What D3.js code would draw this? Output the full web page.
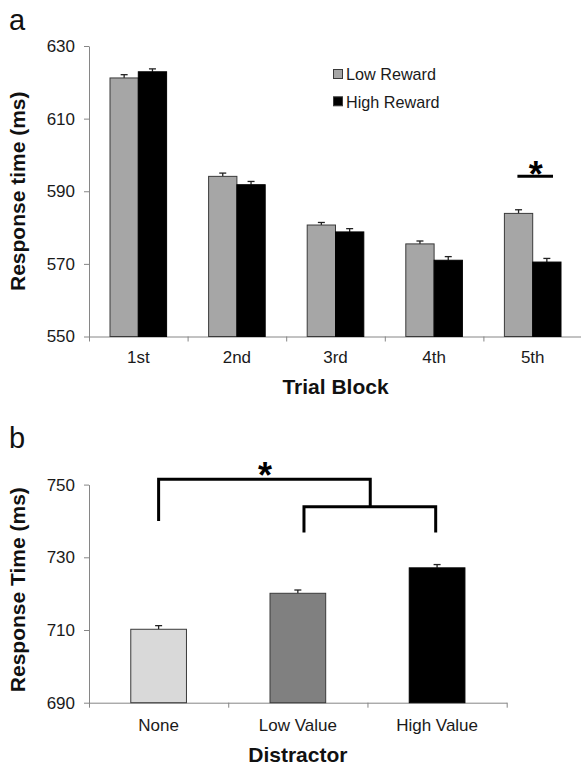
<!DOCTYPE html>
<html>
<head>
<meta charset="utf-8">
<script src="https://cdn.jsdelivr.net/npm/d3@7"></script>
<style>
  html, body { margin: 0; padding: 0; background: #fff; }
  svg, svg text { font-family: "Liberation Sans", Arial, sans-serif; }
  svg { display: block; }
  .axis path, .axis line { stroke: #868686; stroke-width: 1; }
  .axis text { font-size: 17px; fill: #1a1a1a; font-family: "Liberation Sans", Arial, sans-serif; }
</style>
</head>
<body>
<svg id="chart" width="581" height="765"></svg>
<script>
// ---------- Panel a data ----------
const blocks = ["1st", "2nd", "3rd", "4th", "5th"];
const seriesNames = ["Low Reward", "High Reward"];
const lowReward = [621.2, 594.1, 580.7, 575.5, 583.9];
const highReward = [622.9, 591.8, 578.8, 571.0, 570.5];
const lowRewardErr = [0.9, 0.9, 0.7, 0.8, 1.0];
const highRewardErr = [0.8, 0.9, 0.9, 1.0, 1.0];
const ticksA = [550, 570, 590, 610, 630];

// ---------- Panel b data ----------
const distractors = ["None", "Low Value", "High Value"];
const distractorRT = [710.2, 720.1, 727.1];
const distractorErr = [1.0, 0.9, 0.9];
const ticksB = [690, 710, 730, 750];

const svg = d3.select("#chart");
const outline = "#3a3a3a";
const FONT = "Liberation Sans, Arial, sans-serif";

// =============== PANEL A =================
const xa = d3.scaleBand().domain(blocks).range([89, 582]).padding(0);
const xaIdx = d3.scaleLinear().domain([0, blocks.length]).range([89, 582]);
const ya = d3.scaleLinear().domain([550, 630]).range([336.5, 46]);

svg.append("text").attr("x", 9).attr("y", 30)
  .attr("font-size", 29).attr("fill", "#111").text("a");

svg.append("g").attr("class", "axis").attr("transform", "translate(89,0)")
  .call(d3.axisLeft(ya).tickValues(ticksA).tickSize(5).tickSizeOuter(0).tickPadding(9))
  .attr("font-family", FONT);
svg.append("g").attr("class", "axis").attr("transform", `translate(0,${ya(550)})`)
  .call(d3.axisBottom(xaIdx).tickValues(d3.range(0, blocks.length + 1)).tickSize(5).tickSizeOuter(0).tickFormat(""));
svg.append("g").attr("class", "axis").attr("transform", `translate(0,${ya(550)})`)
  .call(d3.axisBottom(xa).tickSize(0).tickPadding(14))
  .attr("font-family", FONT)
  .call(g => g.select(".domain").remove());

const barWA = xa.bandwidth() * 0.287;
const groupA = blocks.map((b, i) => ({ b, i, lo: lowReward[i], hi: highReward[i], le: lowRewardErr[i], he: highRewardErr[i] }));

function errBar(g, cx, yv, e, yScale) {
  g.append("line").attr("x1", cx).attr("x2", cx)
    .attr("y1", yScale(yv)).attr("y2", yScale(yv + e))
    .attr("stroke", "#222").attr("stroke-width", 1.3);
  g.append("line").attr("x1", cx - 3.5).attr("x2", cx + 3.5)
    .attr("y1", yScale(yv + e)).attr("y2", yScale(yv + e))
    .attr("stroke", "#222").attr("stroke-width", 1.3);
}

const barsA = svg.append("g");
groupA.forEach(d => {
  const c = xa(d.b) + xa.bandwidth() / 2;
  errBar(barsA, c - barWA / 2, d.lo, d.le, ya);
  errBar(barsA, c + barWA / 2, d.hi, d.he, ya);
  barsA.append("rect").attr("x", c - barWA).attr("width", barWA)
    .attr("y", ya(d.lo)).attr("height", ya(550) - ya(d.lo))
    .attr("fill", "#a6a6a6").attr("stroke", outline).attr("stroke-width", 1);
  barsA.append("rect").attr("x", c).attr("width", barWA)
    .attr("y", ya(d.hi)).attr("height", ya(550) - ya(d.hi))
    .attr("fill", "#000").attr("stroke", "#000").attr("stroke-width", 1);
});

// legend
const legColors = ["#a6a6a6", "#000"];
seriesNames.forEach((n, i) => {
  const y0 = 69.5 + i * 27.3;
  svg.append("rect").attr("x", 333.5).attr("y", y0).attr("width", 9).attr("height", 9)
    .attr("fill", legColors[i]).attr("stroke", outline).attr("stroke-width", 1);
  svg.append("text").attr("x", 346).attr("y", y0 + 10.8).attr("font-size", 16.2)
    .attr("fill", "#1a1a1a").text(n);
});

// significance (5th block)
svg.append("line").attr("x1", xaIdx(4.345)).attr("x2", xaIdx(4.706))
  .attr("y1", ya(594.1)).attr("y2", ya(594.1)).attr("stroke", "#000").attr("stroke-width", 3);
svg.append("text").attr("x", xaIdx(4.53)).attr("y", 187).attr("text-anchor", "middle")
  .attr("font-size", 36).attr("font-weight", "bold").text("*");

// titles
svg.append("text").attr("transform", `translate(25,${(ya(550) + ya(630)) / 2}) rotate(-90)`)
  .attr("text-anchor", "middle").attr("font-size", 21).attr("font-weight", "bold").attr("fill", "#111")
  .text("Response time (ms)");
svg.append("text").attr("x", (89 + 582) / 2).attr("y", 394).attr("text-anchor", "middle")
  .attr("font-size", 21).attr("font-weight", "bold").attr("fill", "#111").text("Trial Block");

// =============== PANEL B =================
const xb = d3.scaleBand().domain(distractors).range([89, 506.7]).padding(0);
const xbIdx = d3.scaleLinear().domain([0, distractors.length]).range([89, 506.7]);
const yb = d3.scaleLinear().domain([690, 750]).range([702.7, 484.6]);

svg.append("text").attr("x", 9).attr("y", 448)
  .attr("font-size", 29).attr("fill", "#111").text("b");

svg.append("g").attr("class", "axis").attr("transform", "translate(89,0)")
  .call(d3.axisLeft(yb).tickValues(ticksB).tickSize(5).tickSizeOuter(0).tickPadding(9))
  .attr("font-family", FONT);
svg.append("g").attr("class", "axis").attr("transform", `translate(0,${yb(690)})`)
  .call(d3.axisBottom(xbIdx).tickValues(d3.range(0, distractors.length + 1)).tickSize(5).tickSizeOuter(0).tickFormat(""));
svg.append("g").attr("class", "axis").attr("transform", `translate(0,${yb(690)})`)
  .call(d3.axisBottom(xb).tickSize(0).tickPadding(16))
  .attr("font-family", FONT)
  .call(g => g.select(".domain").remove());

const barColorsB = ["#d9d9d9", "#808080", "#000"];
const barWB = xb.bandwidth() * 0.4;
const barsB = svg.append("g");
distractors.forEach((d, i) => {
  const c = xb(d) + xb.bandwidth() / 2;
  errBar(barsB, c, distractorRT[i], distractorErr[i], yb);
  barsB.append("rect").attr("x", c - barWB / 2).attr("width", barWB)
    .attr("y", yb(distractorRT[i])).attr("height", yb(690) - yb(distractorRT[i]))
    .attr("fill", barColorsB[i]).attr("stroke", i === 2 ? "#000" : outline).attr("stroke-width", 1);
});

// brackets
const bracket = svg.append("g").attr("fill", "none").attr("stroke", "#000").attr("stroke-width", 3);
const big = d3.path();
big.moveTo(xbIdx(0.5), yb(740)); big.lineTo(xbIdx(0.5), yb(751.5));
big.lineTo(xbIdx(2.02), yb(751.5)); big.lineTo(xbIdx(2.02), yb(743.9));
bracket.append("path").attr("d", big.toString()).attr("stroke-linejoin", "miter");
const small = d3.path();
small.moveTo(xbIdx(1.544), yb(736.8)); small.lineTo(xbIdx(1.544), yb(743.9));
small.lineTo(xbIdx(2.49), yb(743.9)); small.lineTo(xbIdx(2.49), yb(736.8));
bracket.append("path").attr("d", small.toString()).attr("stroke-linejoin", "miter");
svg.append("text").attr("x", 265).attr("y", 487.5).attr("text-anchor", "middle")
  .attr("font-size", 36).attr("font-weight", "bold").text("*");

svg.append("text").attr("transform", `translate(25,${(yb(690) + yb(750)) / 2 - 4}) rotate(-90)`)
  .attr("text-anchor", "middle").attr("font-size", 21).attr("font-weight", "bold").attr("fill", "#111")
  .text("Response Time (ms)");
svg.append("text").attr("x", (89 + 506.7) / 2).attr("y", 761.5).attr("text-anchor", "middle")
  .attr("font-size", 21).attr("font-weight", "bold").attr("fill", "#111").text("Distractor");
</script>
</body>
</html>
